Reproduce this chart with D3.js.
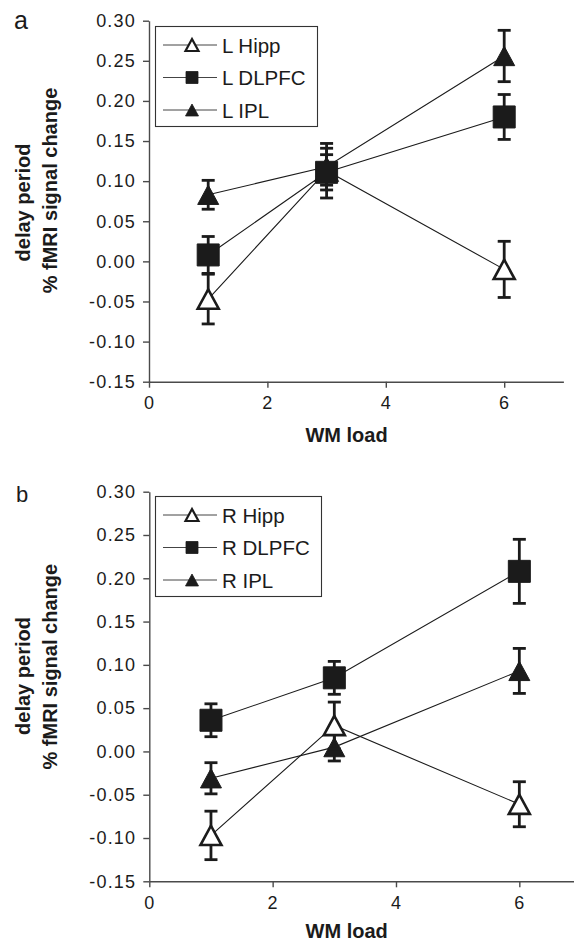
<!DOCTYPE html>
<html>
<head>
<meta charset="utf-8">
<script src="https://cdn.jsdelivr.net/npm/d3@7"></script>
<style>
  body { margin: 0; background: #fff; }
  svg { display: block; font-family: "Liberation Sans", Arial, sans-serif; }
</style>
</head>
<body>
<svg id="chart" width="574" height="942"></svg>
<script>
// data (mean, error bar half-length)
var loads = [1, 3, 6];
var xTicks = [0, 2, 4, 6];
var yTicks = [-0.15, -0.10, -0.05, 0.00, 0.05, 0.10, 0.15, 0.20, 0.25, 0.30];

var leftNames = ['L Hipp', 'L DLPFC', 'L IPL'];
var leftHipp = [-0.047, 0.113, -0.010];
var leftHippErr = [0.031, 0.034, 0.035];
var leftDLPFC = [0.008, 0.111, 0.180];
var leftDLPFCErr = [0.023, 0.022, 0.028];
var leftIPL = [0.083, 0.118, 0.256];
var leftIPLErr = [0.018, 0.023, 0.032];

var rightNames = ['R Hipp', 'R DLPFC', 'R IPL'];
var rightHipp = [-0.097, 0.030, -0.061];
var rightHippErr = [0.028, 0.027, 0.026];
var rightDLPFC = [0.036, 0.085, 0.208];
var rightDLPFCErr = [0.019, 0.019, 0.037];
var rightIPL = [-0.031, 0.005, 0.093];
var rightIPLErr = [0.018, 0.016, 0.026];

var ink = '#1b1b1b';
var svg = d3.select('#chart');

// marker shapes, centred on their bounding box
var markerPath = function(kind, s) {
  var h = s * 0.46, w = s * 0.5;
  if (kind === 'square') {
    return 'M' + (-w) + ',' + (-w) + 'H' + w + 'V' + w + 'H' + (-w) + 'Z';
  }
  return 'M0,' + (-h) + 'L' + w + ',' + h + 'L' + (-w) + ',' + h + 'Z';
};

var drawPanel = function(p) {
  var x = d3.scaleLinear().domain([0, 7]).range([p.left, p.right]);
  var y = d3.scaleLinear().domain([-0.15, 0.30]).range([p.bottom, p.top]);
  var g = svg.append('g');

  // axes
  var yAxis = g.append('g')
    .attr('transform', 'translate(' + p.left + ',0)')
    .call(d3.axisLeft(y).tickValues(yTicks).tickFormat(function(d) { return d.toFixed(2); })
      .tickSize(6).tickSizeOuter(0).tickPadding(7));
  var xAxis = g.append('g')
    .attr('transform', 'translate(0,' + p.bottom + ')')
    .call(d3.axisBottom(x).tickValues(xTicks).tickFormat(d3.format('d'))
      .tickSize(6).tickSizeOuter(0).tickPadding(9));
  [yAxis, xAxis].forEach(function(a) {
    a.select('.domain').attr('stroke', '#4a4a4a').attr('stroke-width', 1.4);
    a.selectAll('.tick line').attr('stroke', '#4a4a4a').attr('stroke-width', 1.4);
    a.selectAll('.tick text').attr('fill', ink).style('font-size', '18px')
      .style('letter-spacing', '1.2px').style('font-family', '"Liberation Sans", Arial, sans-serif');
  });

  g.append('text')
    .attr('x', (p.left + 544) / 2).attr('y', p.bottom + p.xLabDy)
    .attr('text-anchor', 'middle').attr('fill', ink)
    .style('font-size', '20px').style('font-weight', 'bold')
    .text('WM load');

  g.append('text')
    .attr('transform', 'translate(29.5,' + p.lab1 + ') rotate(-90)')
    .attr('text-anchor', 'middle').attr('fill', ink)
    .style('font-size', '20px').style('font-weight', 'bold')
    .text('delay period');
  g.append('text')
    .attr('transform', 'translate(56.5,' + p.lab2 + ') rotate(-90)')
    .attr('text-anchor', 'middle').attr('fill', ink)
    .style('font-size', '20px').style('font-weight', 'bold')
    .text('% fMRI signal change');

  g.append('text')
    .attr('x', p.letterX).attr('y', p.letterY).attr('fill', ink)
    .style('font-size', p.letterSize + 'px')
    .text(p.letter);

  // connecting lines
  var line = d3.line().x(function(d) { return x(d.x); }).y(function(d) { return y(d.v); });
  p.series.forEach(function(s) {
    var pts = loads.map(function(l, i) { return {x: l, v: s.vals[i], e: s.errs[i]}; });
    g.append('path').datum(pts)
      .attr('d', line).attr('fill', 'none')
      .attr('stroke', ink).attr('stroke-width', 1.1);
  });

  // error bars and markers, drawn IPL, Hipp, DLPFC
  [2, 0, 1].forEach(function(k) {
    var s = p.series[k];
    var pts = loads.map(function(l, i) { return {x: l, v: s.vals[i], e: s.errs[i]}; });
    var eb = g.append('g').attr('stroke', ink).attr('stroke-width', 2.8);
    eb.selectAll('line.stem').data(pts).enter().append('line')
      .attr('x1', function(d) { return x(d.x); }).attr('x2', function(d) { return x(d.x); })
      .attr('y1', function(d) { return y(d.v + d.e); }).attr('y2', function(d) { return y(d.v - d.e); });
    eb.selectAll('line.capT').data(pts).enter().append('line')
      .attr('x1', function(d) { return x(d.x) - 6.5; }).attr('x2', function(d) { return x(d.x) + 6.5; })
      .attr('y1', function(d) { return y(d.v + d.e); }).attr('y2', function(d) { return y(d.v + d.e); });
    eb.selectAll('line.capB').data(pts).enter().append('line')
      .attr('x1', function(d) { return x(d.x) - 6.5; }).attr('x2', function(d) { return x(d.x) + 6.5; })
      .attr('y1', function(d) { return y(d.v - d.e); }).attr('y2', function(d) { return y(d.v - d.e); });

    g.selectAll(null).data(pts).enter().append('path')
      .attr('transform', function(d) { return 'translate(' + x(d.x) + ',' + y(d.v) + ')'; })
      .attr('d', markerPath(s.kind, s.kind === 'square' ? 22 : 21))
      .attr('fill', s.open ? '#fff' : ink)
      .attr('stroke', ink)
      .attr('stroke-width', s.open ? 2.6 : 1)
      .attr('stroke-linejoin', 'miter');
  });

  // legend
  var lg = g.append('g');
  lg.append('rect')
    .attr('x', 155.5).attr('y', p.legTop + 0.5)
    .attr('width', p.legW).attr('height', 100)
    .attr('fill', '#fff').attr('stroke', '#333').attr('stroke-width', 1.1);
  p.series.forEach(function(s, i) {
    var yy = p.legTop + 19 + i * 32.5;
    lg.append('line').attr('x1', 163).attr('x2', 217).attr('y1', yy).attr('y2', yy)
      .attr('stroke', '#444').attr('stroke-width', 1);
    lg.append('path')
      .attr('transform', 'translate(192,' + yy + ')')
      .attr('d', markerPath(s.kind, s.kind === 'square' ? 12 : 13))
      .attr('fill', s.open ? '#fff' : ink)
      .attr('stroke', ink).attr('stroke-width', s.open ? 2.2 : 0.8);
    lg.append('text')
      .attr('x', 222).attr('y', yy + 7.5).attr('fill', ink)
      .style('font-size', '20.5px')
      .text(s.name);
  });
};

drawPanel({
  left: 149, right: 563.4, top: 20.7, bottom: 381.7, xLabDy: 60,
  lab1: 202.5, lab2: 190.5, letter: 'a', letterX: 14, letterY: 28.5, letterSize: 25,
  legTop: 26, legW: 162,
  series: [
    {name: leftNames[0], vals: leftHipp, errs: leftHippErr, kind: 'tri', open: true},
    {name: leftNames[1], vals: leftDLPFC, errs: leftDLPFCErr, kind: 'square', open: false},
    {name: leftNames[2], vals: leftIPL, errs: leftIPLErr, kind: 'tri', open: false}
  ]
});

drawPanel({
  left: 149.3, right: 581, top: 491.7, bottom: 881.3, xLabDy: 56.5,
  lab1: 676, lab2: 666.7, letter: 'b', letterX: 16, letterY: 501.7, letterSize: 22,
  legTop: 496, legW: 166,
  series: [
    {name: rightNames[0], vals: rightHipp, errs: rightHippErr, kind: 'tri', open: true},
    {name: rightNames[1], vals: rightDLPFC, errs: rightDLPFCErr, kind: 'square', open: false},
    {name: rightNames[2], vals: rightIPL, errs: rightIPLErr, kind: 'tri', open: false}
  ]
});
</script>
</body>
</html>
